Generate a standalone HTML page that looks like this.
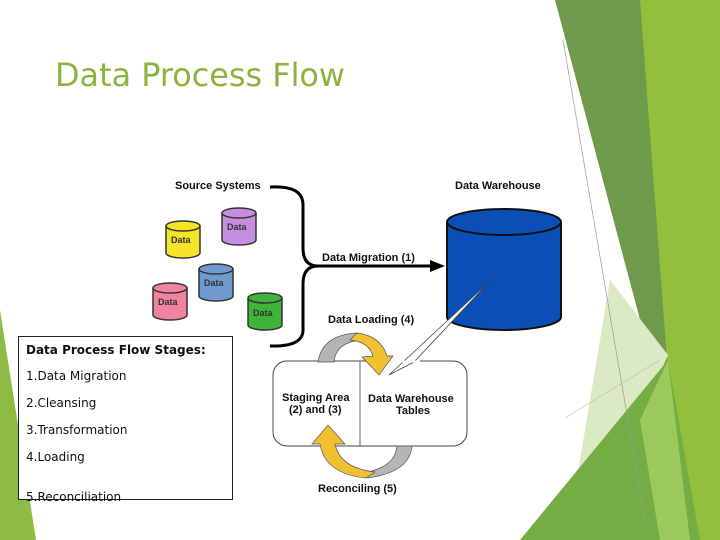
<!DOCTYPE html>
<html><head><meta charset="utf-8"><style>
body{margin:0;width:720px;height:540px;overflow:hidden;background:#fff;font-family:"Liberation Sans",sans-serif}
</style></head><body>
<svg width="720" height="540" viewBox="0 0 720 540" xmlns="http://www.w3.org/2000/svg" style="position:absolute;left:0;top:0">
<!-- decorations -->
<polygon points="0,310 0,540 36,540" fill="#8dbb44"/>
<polygon points="637,0 720,0 720,540 655,540 668,400" fill="#92c03c"/>
<polygon points="555,0 640,0 670,400 664,410" fill="#6e9a4c"/>
<polygon points="610,280 668,355 640,420 575,490" fill="#dbe9c4"/>
<polygon points="520,540 668,360 700,540" fill="#74ad44"/>
<polygon points="640,420 668,360 690,540 660,540" fill="#a5cf62" opacity="0.8"/>
<line x1="563" y1="40" x2="645" y2="520" stroke="#999" stroke-width="0.7"/>
<line x1="565" y1="418" x2="660" y2="360" stroke="#bbb" stroke-width="0.6"/>
<!-- title -->
<text x="55" y="86" font-family="DejaVu Sans, sans-serif" font-size="32" fill="#8db33f" textLength="290" lengthAdjust="spacingAndGlyphs">Data Process Flow</text>
<!-- brace -->
<path d="M270,187 Q303,185 303,205 L303,248 Q303,266 318,266 Q303,266 303,284 L303,330 Q303,347 270,346" fill="none" stroke="#000" stroke-width="3"/>
<line x1="318" y1="266" x2="432" y2="266" stroke="#000" stroke-width="3"/>
<polygon points="430,260 445,266 430,272" fill="#000"/>
<!-- small cylinders -->
<g stroke="#333" stroke-width="1.5" font-family="Liberation Sans, sans-serif" font-size="9" font-weight="bold">
<g><path d="M166,226 v27 a17,5 0 0 0 34,0 v-27" fill="#f5e42a"/><ellipse cx="183" cy="226" rx="17" ry="5" fill="#f5e42a"/><text x="171" y="243" stroke="none" fill="#333">Data</text></g>
<g><path d="M222,213 v27 a17,5 0 0 0 34,0 v-27" fill="#c58ee0"/><ellipse cx="239" cy="213" rx="17" ry="5" fill="#c58ee0"/><text x="227" y="230" stroke="none" fill="#333">Data</text></g>
<g><path d="M199,269 v27 a17,5 0 0 0 34,0 v-27" fill="#6e9ad0"/><ellipse cx="216" cy="269" rx="17" ry="5" fill="#6e9ad0"/><text x="204" y="286" stroke="none" fill="#333">Data</text></g>
<g><path d="M153,288 v27 a17,5 0 0 0 34,0 v-27" fill="#f083a0"/><ellipse cx="170" cy="288" rx="17" ry="5" fill="#f083a0"/><text x="158" y="305" stroke="none" fill="#333">Data</text></g>
<g><path d="M248,298 v27 a17,5 0 0 0 34,0 v-27" fill="#3fb33a"/><ellipse cx="265" cy="298" rx="17" ry="5" fill="#3fb33a"/><text x="253" y="316" stroke="none" fill="#333">Data</text></g>
</g>
<!-- warehouse -->
<path d="M447,222 v95 a57,13 0 0 0 114,0 v-95" fill="#0a4fb5" stroke="#111" stroke-width="2"/>
<ellipse cx="504" cy="222" rx="57" ry="13" fill="#0a4fb5" stroke="#111" stroke-width="2"/>
<!-- staging box -->
<rect x="273" y="361" width="194" height="85" rx="14" fill="#fff" stroke="#444" stroke-width="1"/>
<line x1="360" y1="361" x2="360" y2="446" stroke="#666" stroke-width="1"/>
<!-- callout -->
<polygon points="490,281 389,375 414,362" fill="#fff" stroke="#444" stroke-width="0.8"/>
<line x1="389" y1="361.5" x2="420" y2="361.5" stroke="#fff" stroke-width="2"/>
<!-- loop arrows -->
<path d="M318,362 Q322,335 357,333 L362,340 Q336,342 334,362 Z" fill="#b5b5b5" stroke="#555" stroke-width="0.7"/>
<path d="M357,333 Q381,336 387,356 L393,356 L379,375 L362,357 L373,356 Q369,342 350,340 Z" fill="#f0c030" stroke="#555" stroke-width="0.7"/>
<path d="M412,446 Q410,472 368,478 L362,473 Q395,468 397,446 Z" fill="#b5b5b5" stroke="#555" stroke-width="0.7"/>
<path d="M366,478 Q325,474 320,444 L312,444 L328,425 L345,444 L335,444 Q340,468 375,472 Z" fill="#f0c030" stroke="#555" stroke-width="0.7"/>
<!-- labels -->
<g font-family="Liberation Sans, sans-serif" font-weight="bold" font-size="11" fill="#111">
<text x="175" y="189">Source Systems</text>
<text x="455" y="189">Data Warehouse</text>
<text x="322" y="261">Data Migration (1)</text>
<text x="328" y="323">Data Loading (4)</text>
<text x="282" y="401">Staging Area</text>
<text x="289" y="413">(2) and (3)</text>
<text x="368" y="402">Data Warehouse</text>
<text x="396" y="414">Tables</text>
<text x="318" y="492">Reconciling (5)</text>
</g>
</svg>
<div style="position:absolute;left:18px;top:336px;width:213px;height:162px;border:1px solid #222;background:#fff;font-family:'DejaVu Sans',sans-serif;font-size:12px;color:#111">
<div style="position:absolute;left:7px;top:6px;font-weight:bold">Data Process Flow Stages:</div>
<div style="position:absolute;left:7px;top:32px">1.Data Migration</div>
<div style="position:absolute;left:7px;top:59px">2.Cleansing</div>
<div style="position:absolute;left:7px;top:86px">3.Transformation</div>
<div style="position:absolute;left:7px;top:113px">4.Loading</div>
<div style="position:absolute;left:7px;top:153px">5.Reconciliation</div>
</div>
</body></html>
